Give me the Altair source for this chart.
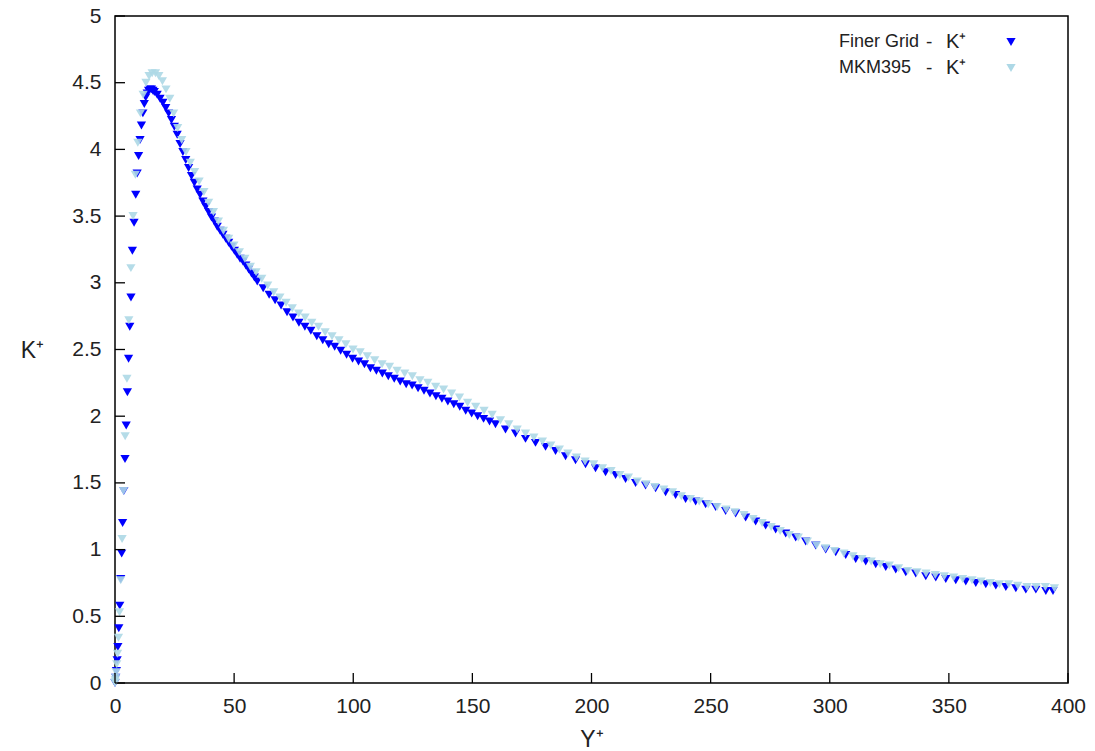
import altair as alt
import pandas as pd

# ---------------- data ----------------
fine_y = [0.0, 0.3, 0.6, 0.9, 1.2, 1.6, 2.0, 2.4, 2.8, 3.2, 3.7, 4.2, 4.7, 5.2, 5.7, 6.2, 6.7,
          7.3, 8.0, 8.7, 9.3, 9.9, 10.5, 11.1, 11.7, 12.3, 12.9, 13.5, 14.1, 14.7, 15.3, 15.9,
          16.5, 17.7, 18.9, 20.1, 21.3, 22.5, 23.7, 24.9, 26.1, 27.3, 28.5, 29.7, 30.9, 32.1,
          33.3, 34.5, 35.7, 36.9, 38.1, 39.3, 40.5, 41.7, 42.9, 44.1, 45.3, 46.5, 47.7, 48.9,
          50.1, 51.3, 52.5, 53.7, 54.9, 56.1, 57.3, 58.5, 59.7,
          62.2, 64.7, 67.2, 69.7, 72.2, 74.7, 77.2, 79.7, 82.2, 84.7, 87.2, 89.7, 92.2, 94.7,
          97.2, 99.7, 102.2, 104.7, 107.2, 109.7, 112.2, 114.7, 117.2, 119.7, 122.2, 124.7,
          127.2, 129.7, 132.2, 134.7, 137.2, 139.7, 142.2, 144.7, 147.2, 149.7, 152.2, 154.7,
          157.2, 159.7,
          163.9, 168.1, 172.3, 176.5, 180.7, 184.9, 189.1, 193.3, 197.5, 201.7, 205.9, 210.1,
          214.3, 218.5, 222.7, 226.9, 231.1, 235.3, 239.5, 243.7, 247.9, 252.1, 256.3, 260.5,
          264.7, 268.9, 273.1, 277.3, 281.5, 285.7, 289.9, 294.1, 298.3, 302.5, 306.7, 310.9,
          315.1, 319.3, 323.5, 327.7, 331.9, 336.1, 340.3, 344.5, 348.7, 352.9, 357.1, 361.3,
          365.5, 369.7, 373.9, 378.1, 382.3, 386.5, 390.7, 393.7]
fine_k = [0.0, 0.04, 0.09, 0.17, 0.27, 0.41, 0.58, 0.78, 0.97, 1.20, 1.44, 1.68, 1.93, 2.18, 2.43, 2.67, 2.89,
          3.24, 3.45, 3.66, 3.82, 3.95, 4.07, 4.18, 4.27, 4.34, 4.39, 4.42, 4.44, 4.45, 4.45, 4.44,
          4.43, 4.41, 4.38, 4.35, 4.31, 4.27, 4.22, 4.17, 4.11, 4.04, 3.98, 3.92, 3.86, 3.80,
          3.75, 3.70, 3.66, 3.61, 3.57, 3.53, 3.49, 3.46, 3.42, 3.39, 3.36, 3.33, 3.30, 3.27,
          3.24, 3.21, 3.18, 3.16, 3.13, 3.10, 3.07, 3.04, 3.01,
          2.96, 2.91, 2.87, 2.83, 2.78, 2.74, 2.70, 2.67, 2.64, 2.60, 2.57, 2.54, 2.52, 2.49,
          2.46, 2.43, 2.41, 2.39, 2.36, 2.34, 2.32, 2.30, 2.28, 2.26, 2.24, 2.23,
          2.21, 2.19, 2.17, 2.15, 2.13, 2.11, 2.09, 2.07, 2.04, 2.02, 2.00, 1.98,
          1.96, 1.94,
          1.90, 1.87, 1.83, 1.80, 1.77, 1.74, 1.70, 1.67, 1.64, 1.61, 1.58, 1.56,
          1.53, 1.50, 1.48, 1.46, 1.43, 1.41, 1.38, 1.36, 1.34, 1.32, 1.29, 1.27,
          1.24, 1.21, 1.18, 1.15, 1.12, 1.09, 1.06, 1.03, 1.00, 0.98, 0.96, 0.93,
          0.91, 0.89, 0.87, 0.85, 0.83, 0.82, 0.80, 0.79, 0.78, 0.77, 0.76, 0.75,
          0.74, 0.73, 0.72, 0.71, 0.70, 0.70, 0.69, 0.69]

mkm_y = [0.0, 0.03, 0.12, 0.27, 0.48, 0.74, 1.07, 1.46, 1.90, 2.41, 2.97, 3.59, 4.27, 5.01, 5.81,
         6.67, 7.58, 8.55, 9.58, 10.67, 11.81, 13.0, 14.3, 15.6, 17.0, 18.4, 19.9, 21.4, 23.0,
         24.6, 26.3, 28.0, 29.8, 31.6, 33.4, 35.3, 37.3, 39.3, 41.3, 43.4, 45.5, 47.7, 49.9,
         52.2, 54.5, 56.8, 59.2, 61.6, 64.1, 66.6, 69.2, 71.8, 74.4, 77.1, 79.8, 82.6, 85.4,
         88.2, 91.1, 94.0, 96.9, 99.9, 102.9, 105.9, 109.0, 112.1, 115.2, 118.4, 121.6, 124.8,
         128.0, 131.3, 134.6, 137.9, 141.3, 144.6, 148.0, 151.4, 154.9, 158.3, 161.8, 165.3,
         168.8, 172.3, 175.8, 179.4, 182.9, 186.5, 190.1, 193.7, 197.3, 200.9, 204.6, 208.2,
         211.9, 215.5, 219.2, 222.9, 226.6, 230.3, 234.0, 237.7, 241.5, 245.2, 249.0, 252.7,
         256.5, 260.2, 264.0, 267.8, 271.6, 275.4, 279.2, 283.0, 286.8, 290.6, 294.4, 298.2,
         302.0, 305.9, 309.7, 313.5, 317.4, 321.2, 325.0, 328.9, 332.7, 336.6, 340.4, 344.3,
         348.1, 352.0, 355.8, 359.7, 363.5, 367.4, 371.2, 375.1, 378.9, 382.8, 386.6, 390.5, 394.3]
mkm_k = [0.0, 0.005, 0.02, 0.04, 0.08, 0.14, 0.22, 0.34, 0.53, 0.77, 1.08, 1.44, 1.85, 2.28, 2.72,
         3.11, 3.50, 3.81, 4.05, 4.27, 4.41, 4.50, 4.55, 4.57, 4.57, 4.55, 4.51, 4.45, 4.38,
         4.27, 4.16, 4.07, 3.98, 3.90, 3.83, 3.76, 3.68, 3.60, 3.53, 3.46, 3.39, 3.33, 3.28,
         3.23, 3.18, 3.12, 3.08, 3.03, 2.98, 2.93, 2.89, 2.85, 2.81, 2.77, 2.74, 2.70, 2.67,
         2.63, 2.60, 2.57, 2.54, 2.50, 2.48, 2.45, 2.42, 2.39, 2.37, 2.34, 2.32, 2.30,
         2.27, 2.25, 2.22, 2.20, 2.17, 2.14, 2.10, 2.07, 2.04, 2.01, 1.97, 1.94,
         1.90, 1.87, 1.84, 1.81, 1.78, 1.75, 1.72, 1.69, 1.66, 1.64, 1.61, 1.59,
         1.56, 1.54, 1.51, 1.49, 1.47, 1.45, 1.43, 1.40, 1.38, 1.36, 1.34, 1.32,
         1.30, 1.28, 1.26, 1.23, 1.20, 1.17, 1.14, 1.11, 1.09, 1.06, 1.03, 1.01,
         0.99, 0.97, 0.95, 0.93, 0.91, 0.89, 0.88, 0.86, 0.84, 0.83, 0.82, 0.81,
         0.80, 0.79, 0.78, 0.77, 0.76, 0.75, 0.74, 0.74, 0.73, 0.72, 0.72, 0.72, 0.71]

x_ticks = [0, 50, 100, 150, 200, 250, 300, 350, 400]
y_ticks = [0, 0.5, 1, 1.5, 2, 2.5, 3, 3.5, 4, 4.5, 5]

FONT = "Liberation Sans"
TXT = "#222222"
W, H = 953, 667
BLUE = "#0000ff"
LIGHT = "#add8e6"
MSIZE = 85

fine_df = pd.DataFrame({"y": fine_y, "k": fine_k})
mkm_df = pd.DataFrame({"y": mkm_y, "k": mkm_k})

xs = alt.Scale(domain=[0, 400], nice=False, zero=False)
ys = alt.Scale(domain=[0, 5], nice=False, zero=False)

fine_layer = alt.Chart(fine_df).mark_point(
    shape="triangle-down", filled=True, color=BLUE, size=MSIZE, opacity=1
).encode(
    x=alt.X("y:Q", scale=xs, axis=alt.Axis(
        title="Y⁺", values=x_ticks, format="d", ticks=False, domain=False, grid=False,
        labelFlush=False, labelOverlap=False,
        labelFont=FONT, labelFontSize=21, labelColor=TXT, labelPadding=12,
        titleFont=FONT, titleFontSize=23, titleFontWeight="normal", titleColor=TXT,
        titleY=56, titleBaseline="middle")),
    y=alt.Y("k:Q", scale=ys, axis=alt.Axis(
        title="K⁺", values=y_ticks, format="~g", ticks=False, domain=False, grid=False,
        labelFlush=False, labelOverlap=False,
        labelFont=FONT, labelFontSize=21, labelColor=TXT, labelPadding=14,
        titleFont=FONT, titleFontSize=23, titleFontWeight="normal", titleColor=TXT,
        titleAngle=0, titleX=-83, titleY=334, titleAlign="center", titleBaseline="middle")),
)

mkm_layer = alt.Chart(mkm_df).mark_point(
    shape="triangle-down", filled=True, color=LIGHT, size=MSIZE, opacity=0.9
).encode(
    x=alt.X("y:Q", scale=xs, axis=None),
    y=alt.Y("k:Q", scale=ys, axis=None),
)

xt_df = pd.DataFrame({"v": x_ticks})
yt_df = pd.DataFrame({"v": y_ticks})
xtick_layer = alt.Chart(xt_df).mark_rule(color="black", strokeWidth=1.3).encode(
    x=alt.X("v:Q", scale=xs, axis=None), y=alt.value(H), y2=alt.value(H - 10))
ytick_layer = alt.Chart(yt_df).mark_rule(color="black", strokeWidth=1.3).encode(
    y=alt.Y("v:Q", scale=ys, axis=None), x=alt.value(0), x2=alt.value(10))

leg_names = ["Finer Grid", "MKM395"]
leg_dash = ["-", "-"]
leg_k = ["K⁺", "K⁺"]
leg_colors = [BLUE, LIGHT]
leg_df = pd.DataFrame({"name": leg_names, "dash": leg_dash, "kk": leg_k,
                       "color": leg_colors, "row": [0, 1]})
leg_rows = alt.Scale(domain=[0, 1], range=[26, 52])


def leg_text(field, xpos, size):
    return alt.Chart(leg_df).mark_text(
        align="left", baseline="middle", font=FONT, fontSize=size, color=TXT
    ).encode(x=alt.value(xpos), y=alt.Y("row:Q", scale=leg_rows, axis=None), text=f"{field}:N")


leg_name = leg_text("name", 724, 18)
leg_dsh = leg_text("dash", 811, 19)
leg_kk = leg_text("kk", 831, 20)
leg_sym = alt.Chart(leg_df).mark_point(shape="triangle-down", filled=True, size=MSIZE, opacity=1).encode(
    x=alt.value(896), y=alt.Y("row:Q", scale=leg_rows, axis=None),
    color=alt.Color("color:N", scale=None))

chart = alt.layer(
    fine_layer, mkm_layer, xtick_layer, ytick_layer, leg_name, leg_dsh, leg_kk, leg_sym
).resolve_scale(y="independent").resolve_axis(x="independent", y="independent").properties(
    width=W, height=H,
    autosize=alt.AutoSizeParams(type="none"),
    padding={"left": 115, "top": 16, "right": 27, "bottom": 68},
    background="white",
).configure_view(stroke="black", strokeWidth=1.5)

chart.save("out.html", embed_options={"renderer": "svg", "actions": False})
